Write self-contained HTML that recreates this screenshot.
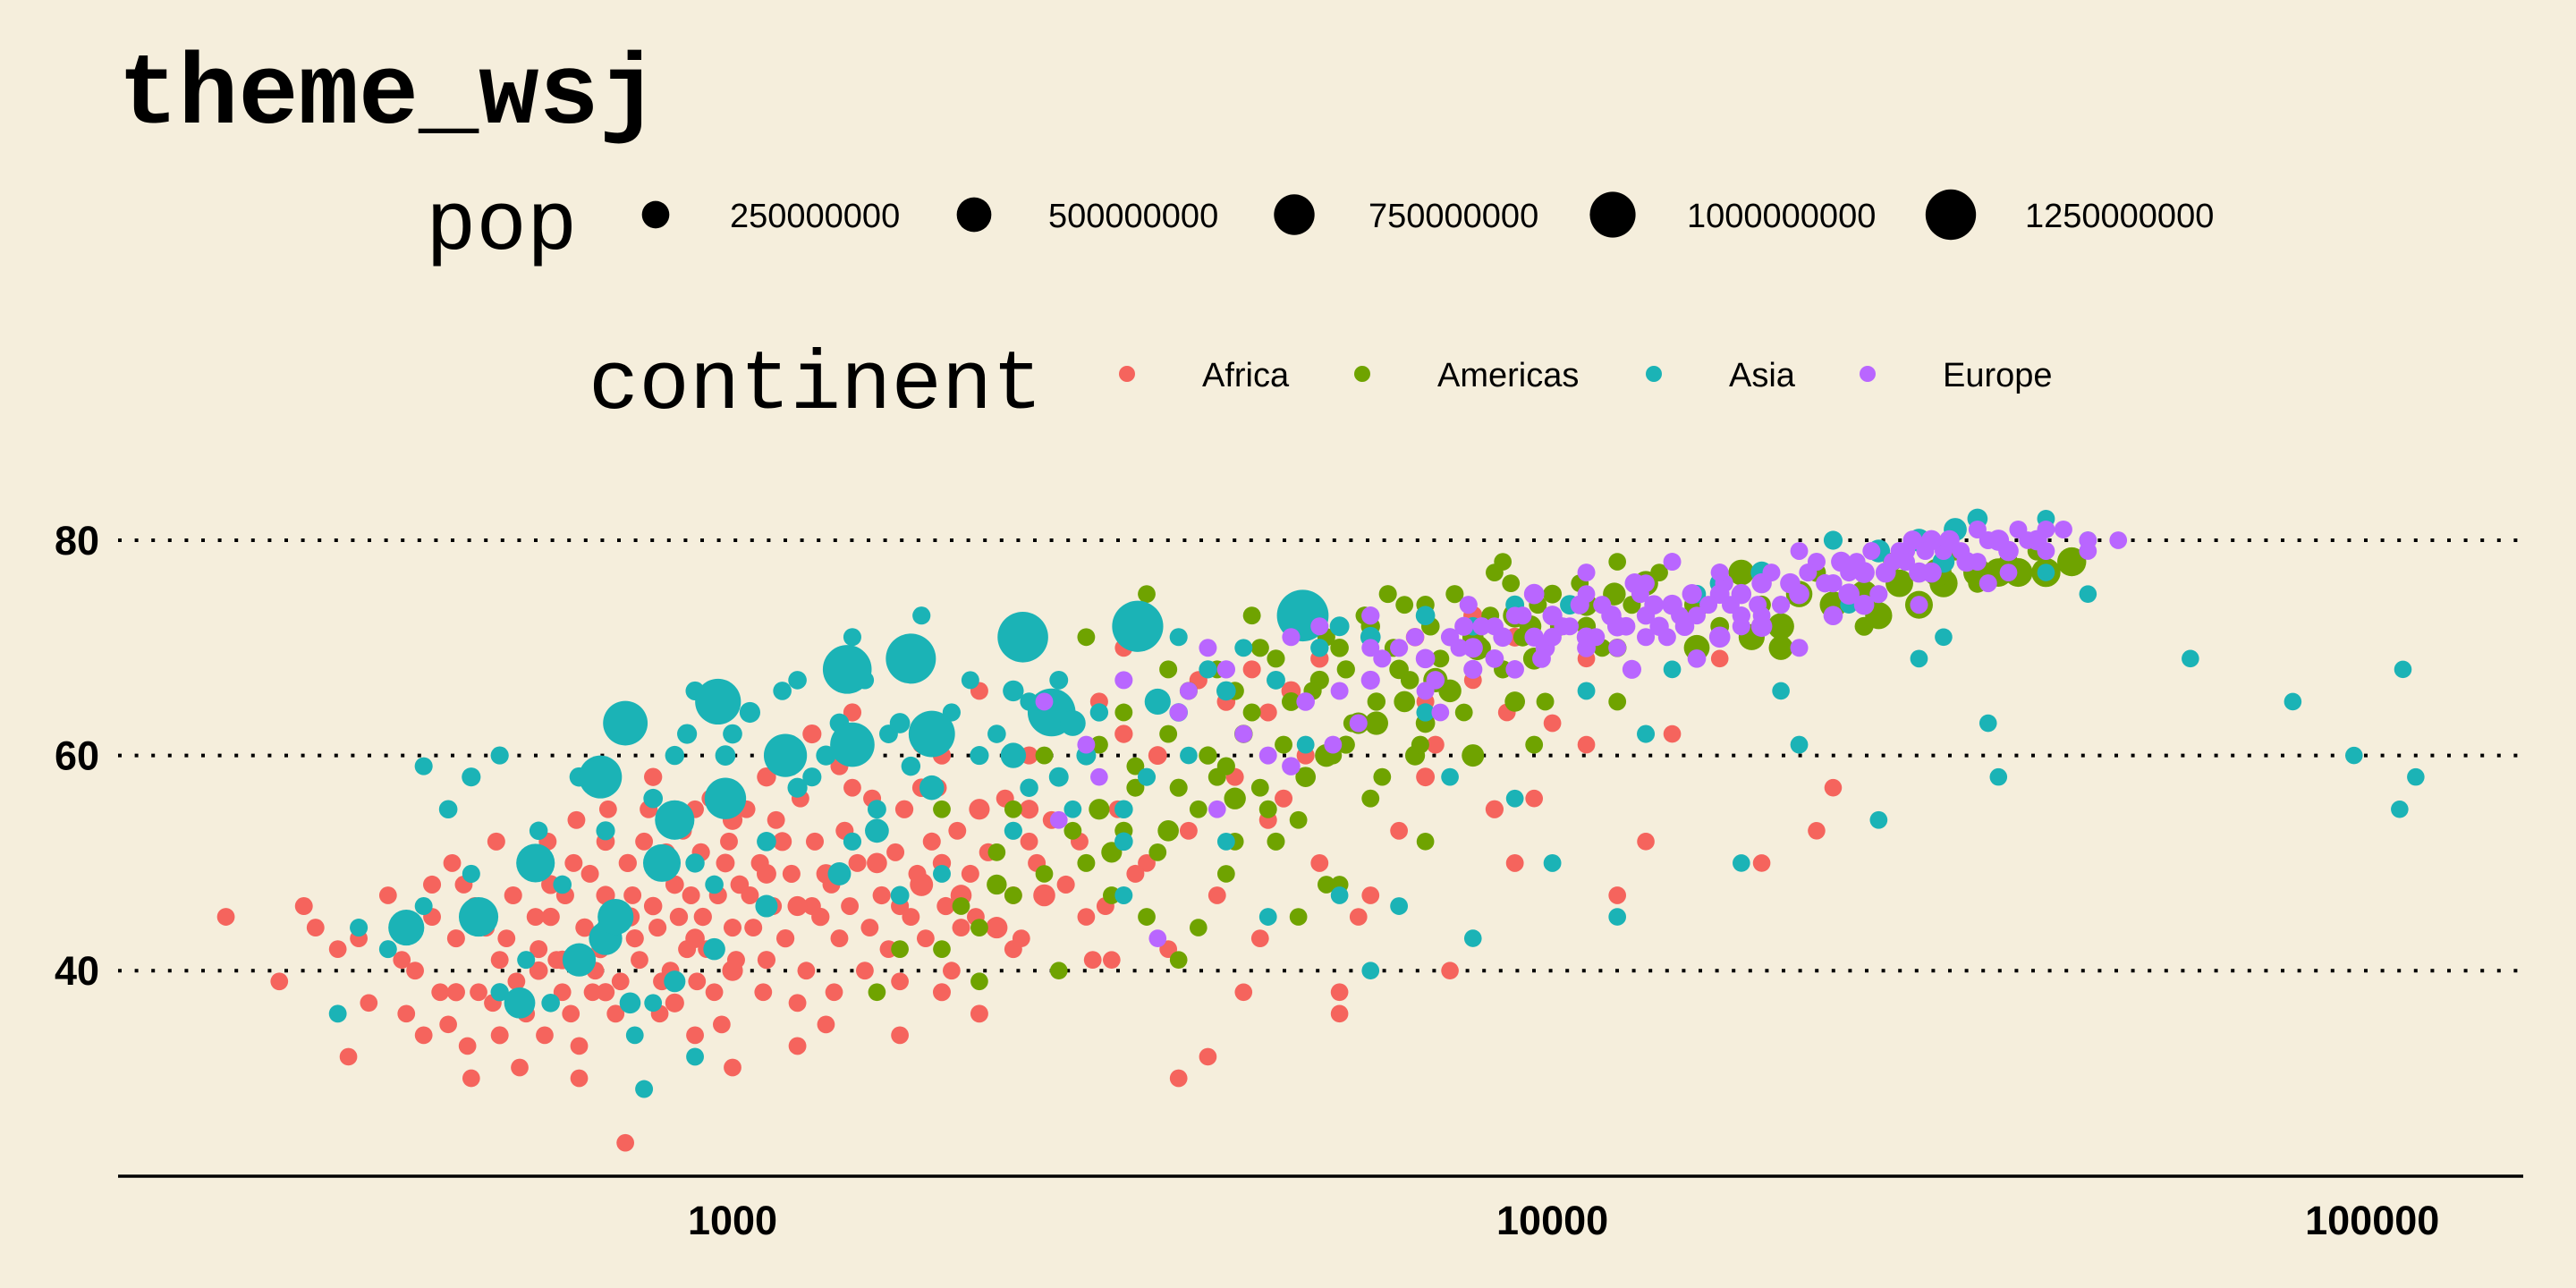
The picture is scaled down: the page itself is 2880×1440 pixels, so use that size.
<!DOCTYPE html>
<html><head><meta charset="utf-8">
<style>
html,body{margin:0;padding:0;background:#f5eedc;}
svg{display:block;}
</style></head>
<body>
<svg id="chart" width="2880" height="1440" viewBox="0 0 2880 1440" xmlns="http://www.w3.org/2000/svg">
<rect x="0" y="0" width="2880" height="1440" fill="#f5eedc"/>
<text x="132" y="137" font-family="Liberation Mono, monospace" font-weight="bold" font-size="112">theme_wsj</text>
<g id="legendPop"></g>
<g id="legendCont"></g>
<g id="grid"></g>
<g id="points"></g>
<g id="axes"></g>
</svg>
<script>
const continents = ["Africa","Americas","Asia","Europe"];
const colors = ["#F5645D","#6FA300","#1BB3B6","#B966FF"];
const popBreaks = [250000000,500000000,750000000,1000000000,1250000000];
const xTicks = [1000,10000,100000];
const yTicks = [40,60,80];
// [gdpPercap, lifeExp, pop in millions]
const africa = [[241,45,5],[300,46,8],[330,42,4],[340,32,3],[350,43,5],[400,36,4],[410,40,6],[420,34,5],[450,35,3],[460,43,9],[470,48,6],[490,38,4],[500,44,12],[520,41,7],[540,47,10],[560,36,4],[580,42,8],[600,45,15],[620,38,5],[640,50,9],[660,44,20],[680,40,6],[700,47,30],[720,36,5],[740,24,4],[760,43,12],[780,52,6],[800,46,18],[820,39,7],[850,48,22],[880,42,9],[900,55,6],[920,45,14],[950,38,5],[980,50,25],[1000,44,10],[1050,47,8],[1100,41,12],[1150,52,30],[1200,37,6],[1250,46,9],[1300,49,40],[1350,43,7],[1400,57,5],[1450,40,6],[1500,53,20],[1600,46,11],[1700,61,4],[1800,50,15],[1900,44,8],[2000,55,70],[2100,48,9],[2300,52,6],[2500,58,5],[2700,45,4],[2900,41,3],[3200,50,5],[3500,30,4],[3800,32,3],[4000,65,20],[4200,38,2],[4500,54,8],[5000,60,10],[5500,36,2],[6000,47,5],[7000,58,25],[7500,40,2],[8500,55,12],[9000,50,6],[10000,63,4],[12000,47,3],[14000,62,3],[18000,50,2],[21000,53,1],[22000,57,1],[3000,70,6],[4300,68,9],[6000,72,12],[9000,71,30],[12000,72,5],[2600,63,10],[1800,60,14],[1100,58,35],[900,34,6],[650,33,5],[550,31,4],[600,48,30],[700,52,20],[1300,35,4],[2200,42,8],[1000,54,50],[800,58,15],[1600,39,5],[2400,47,100],[3300,60,25],[4800,66,40],[7000,65,8],[11000,69,3],[14000,74,2],[8000,73,35],[5500,38,3],[1400,64,12],[2000,66,8],[1250,62,30],[1700,48,130],[2100,44,90],[1000,40,70],
[280,39,4],[310,44,6],[360,37,3],[380,47,5],[395,41,4],[430,45,7],[440,38,5],[455,50,6],[475,33,3],[485,46,8],[510,37,4],[515,52,9],[530,43,6],[545,39,5],[565,50,11],[575,45,7],[590,34,4],[595,52,8],[610,41,6],[625,47,10],[635,36,4],[645,54,7],[670,49,9],[675,38,5],[690,42,12],[705,55,6],[715,45,8],[730,39,5],[745,50,14],[755,47,7],[770,41,6],[790,55,9],[810,44,11],[815,36,4],[830,51,8],[840,40,6],[860,45,16],[870,53,7],[890,47,9],[905,39,5],[915,51,12],[930,42,6],[940,56,8],[960,47,10],[970,35,4],[990,52,7],[1010,41,9],[1020,48,20],[1040,55,6],[1060,44,8],[1080,50,11],[1090,38,5],[1120,46,9],[1130,54,7],[1160,43,13],[1180,49,10],[1210,56,6],[1230,40,5],[1260,52,9],[1280,45,15],[1320,48,8],[1330,38,4],[1370,53,11],[1390,46,7],[1420,50,10],[1470,44,6],[1480,56,9],[1520,47,12],[1550,42,5],[1580,51,8],[1620,55,14],[1650,45,7],[1680,49,9],[1720,43,6],[1750,52,10],[1780,57,8],[1820,46,12],[1850,40,5],[1880,53,7],[1950,49,9],[1980,45,6],[2050,51,11],[2150,56,8],[2200,47,7],[2250,43,5],[2350,50,9],[2450,54,6],[2550,48,10],[2650,52,7],[2750,41,5],[2850,46,8],[2950,55,6],[3100,49,9],[3400,42,5],[3600,53,7],[3900,47,6],[4100,58,8],[4400,43,5],[4700,56,9],[5200,50,6],[5800,45,4],[6500,53,5],[7200,61,7],[8800,64,4],[9500,56,3],[11000,61,3],[13000,52,2],[16000,69,2],[3000,62,15],[2300,60,12],[1700,57,20],[1350,59,9],[2800,65,10],[3700,67,12],[5200,69,15],[6800,71,20],[4500,64,8],[8000,67,6],[1200,46,50],[1500,50,60],[1900,47,80],[2300,55,30],[900,43,40],[750,45,35],[1100,49,45],[620,41,25],[850,37,30],[700,38,15],[580,40,22],[460,38,12],[430,48,10],[520,34,8],[480,30,3],[650,30,4],[1000,31,5],[1200,33,6],[1600,34,5],[2000,36,7],[1800,38,9]];
const americas = [[1500,38,3],[1800,42,4],[2000,44,5],[2200,47,6],[2500,40,3],[2700,50,8],[3000,53,12],[3200,45,5],[3500,57,10],[3800,60,15],[4000,49,4],[4200,62,20],[4500,55,8],[4800,65,25],[5000,58,60],[5200,67,30],[5500,70,20],[5800,63,90],[6000,72,35],[6500,68,40],[7000,74,15],[7500,66,120],[8000,71,80],[8500,77,5],[9000,73,150],[9500,69,100],[10000,75,25],[11000,72,30],[12000,78,3],[13000,76,170],[15000,74,180],[17000,77,200],[20000,75,220],[25000,73,240],[28000,74,260],[30000,76,270],[35000,77,280],[40000,77,300],[43000,78,300],[3900,58,8],[2800,55,70],[2400,60,6],[6800,60,50],[4600,52,9],[5300,48,4],[12000,70,20],[9000,65,60],[16000,72,25],[19000,70,160],[24000,72,28],[33000,76,30],[2300,65,7],[3400,68,9],[4400,70,12],[1800,55,5],[8000,60,110],[7000,63,40],[6300,75,10],[10500,74,15],[3700,44,3],[3100,59,6],[5600,61,12],[4100,66,15],[2600,63,4],
[1600,42,4],[1900,46,5],[2100,51,3],[2200,55,6],[2400,49,4],[2500,58,7],[2600,53,5],[2800,61,8],[2900,47,3],[3000,64,6],[3100,57,9],[3300,51,4],[3400,62,7],[3600,66,10],[3700,55,5],[3900,68,8],[4000,59,12],[4100,52,4],[4300,64,9],[4400,57,6],[4600,69,11],[4700,61,7],[4900,54,5],[5100,66,13],[5300,71,9],[5400,60,6],[5600,68,14],[5700,63,8],[5900,73,10],[6100,65,16],[6200,58,5],[6400,70,12],[6600,74,6],[6700,67,18],[6900,61,9],[7100,72,20],[7300,69,7],[7600,75,11],[7800,64,5],[8200,70,22],[8400,73,8],[8700,68,12],[8900,76,6],[9200,71,25],[9600,74,9],[9800,65,7],[10200,72,30],[10800,76,5],[11500,70,8],[12500,74,10],[13500,77,4],[14500,72,12],[16000,76,6],[18000,74,20],[21000,77,25],[23000,75,27],[26000,78,29],[31000,79,31],[36000,78,33],[39000,79,33],[4900,45,4],[5500,48,5],[3500,41,3],[7000,52,3],[2000,39,3],[6000,56,6],[9500,61,5],[12000,65,5],[4300,73,7],[2700,71,6],[3200,75,5],[8700,78,4],[6100,63,140],[7200,67,160],[8100,70,170],[5300,60,120],[4100,56,95],[3400,53,80],[2900,51,70],[2100,48,55],[6600,65,80],[9400,72,100],[11000,74,105],[11900,75,120],[15000,70,200],[17500,71,210],[19000,72,220],[22000,74,230],[24000,75,245],[26500,76,255],[29500,77,265],[33000,77,280],[37000,77,290]];
const asia = [[330,36,6],[380,42,8],[420,59,10],[450,55,20],[480,58,30],[500,45,15],[520,60,12],[560,41,9],[600,37,20],[650,58,40],[700,44,12],[750,64,25],[780,29,8],[800,37,5],[850,60,35],[900,66,30],[950,48,20],[1000,56,15],[1100,52,40],[1200,67,20],[1400,71,10],[1500,55,25],[1700,73,12],[1800,49,8],[2000,60,30],[2300,65,15],[2500,58,45],[3000,55,20],[3500,71,10],[4000,66,40],[5000,61,6],[6000,40,3],[7000,64,15],[8000,43,2],[9000,56,4],[10000,50,6],[12000,45,3],[13000,62,10],[17000,50,2],[20000,61,5],[25000,54,4],[28000,69,4],[30000,78,100],[33000,82,60],[34000,63,2],[35000,58,1],[40000,82,7],[45000,80,4],[60000,69,1],[80000,65,1],[95000,60,1],[108000,55,1],[109000,68,1],[113000,58,1],[12000,72,40],[15000,75,20],[22000,80,30],[3000,47,8],[4500,45,5],[6500,46,6],[2200,53,12],[1600,47,25],[1300,60,50],[900,32,6],[760,34,5],[480,49,10],[580,53,18],
[350,44,10],[420,46,8],[520,38,15],[620,48,20],[700,53,30],[800,56,40],[880,62,50],[980,60,60],[1050,64,70],[1150,66,20],[1250,58,30],[1350,63,40],[1450,67,15],[1550,62,25],[1650,59,35],[1850,64,12],[1950,67,8],[2100,62,20],[2300,57,18],[2500,67,25],[2800,64,15],[2700,60,45],[3200,58,10],[3500,64,20],[3800,68,12],[4200,70,8],[4600,67,25],[5200,70,15],[5500,72,45],[6000,71,60],[7000,73,40],[8000,72,20],[9000,74,25],[10500,74,45],[16000,76,50],[18000,77,100],[25000,79,120],[28000,80,125],[31000,81,127],[3000,52,20],[1400,52,12],[1200,57,50],[1600,63,60],[2200,66,75],[900,50,35],[1000,62,40],[11000,66,6],[14000,68,3],[7500,58,4],[5500,47,3],[4000,52,5],[3600,60,3],[2600,55,4],[19000,66,2],[23000,74,3],[40000,77,3],[45000,75,2],[30000,71,2],
[400,44,550],[575,50,660],[490,45,700],[690,58,860],[740,63,940],[960,65,1000],[1380,68,1160],[1650,69,1230],[2260,71,1260],[3120,72,1290],[4960,73,1320],[550,37,370],[650,41,450],[700,43,450],[720,45,550],[820,50,620],[850,54,700],[980,56,790],[1160,60,870],[1400,61,930],[1750,62,1030],[2450,64,1110],[750,37,80],[850,39,90],[950,42,100],[1100,46,110],[1350,49,130],[1500,53,150],[1750,57,170],[2200,60,190],[2600,63,200],[3300,65,210]];
const europe = [[2500,54,5],[2700,61,8],[3000,67,10],[3500,64,12],[4000,68,15],[4500,60,8],[5000,65,20],[5200,72,10],[6000,67,30],[6500,70,12],[7000,69,40],[7500,71,15],[8000,70,50],[8500,72,10],[9000,68,20],[9500,71,35],[10000,73,50],[11000,70,25],[12000,72,55],[13000,71,10],[14000,74,60],[15000,73,8],[16000,75,45],[17000,72,12],[18000,76,57],[19000,74,10],[20000,75,60],[22000,76,15],[24000,77,80],[26000,78,10],[28000,77,60],[30000,79,8],[32000,78,55],[34000,80,9],[36000,79,60],[38000,80,5],[40000,81,7],[45000,80,5],[49000,80,4],[2400,65,6],[4800,59,20],[3300,43,3],[3800,70,9],[6000,73,15],[7800,72,30],[9800,70,40],[11500,74,10],[13500,72,35],[16500,74,8],[21000,78,10],[25000,75,12],[29000,80,60],[33000,81,10],[20000,70,9],[15000,69,20],[12500,68,30],[11000,71,38],[8500,69,22],[10500,72,9],[13000,73,16],[18000,73,5],[23000,77,8],[27000,79,15],
[5500,66,8],[6200,69,10],[6800,71,12],[7200,67,20],[7700,70,9],[8200,72,14],[8700,71,40],[9200,73,10],[9700,69,25],[10300,72,8],[10800,74,30],[11300,71,10],[11800,73,57],[12300,72,22],[12800,75,8],[13300,74,40],[13800,71,10],[14300,73,5],[14800,75,50],[15500,74,9],[16200,76,15],[17000,75,55],[17800,74,10],[18500,77,8],[19500,76,58],[20500,77,10],[21500,76,16],[22500,78,60],[23500,78,5],[24500,79,9],[25500,77,60],[26500,79,8],[27500,80,40],[28500,79,10],[30500,80,58],[31500,79,5],[35000,80,82],[37000,81,9],[39000,80,60],[42000,81,10],[36000,77,4],[33000,78,8],[29000,77,60],[27000,78,11],[23000,75,80],[19000,74,9],[17000,73,15],[14500,72,38],[12000,70,10],[10000,71,20],[8000,68,30],[7000,66,9],[6000,70,8],[9000,73,5],[11000,75,4],[13000,76,6],[16000,77,10],[5800,63,10],[4200,62,9],[3600,66,8],[2800,58,3],[3900,55,4],[5400,61,7],[7300,64,5],[4800,71,10],[7900,74,12],[9500,75,60],[12600,76,50],[11000,77,8],[14000,78,9],[20000,79,6],[18000,72,80],[16000,71,80],[22000,73,40],[24000,74,60],[28000,74,10],[34000,76,8],[40000,79,6],[45000,79,5]];
const series = [africa, americas, asia, europe];

const NS = "http://www.w3.org/2000/svg";
const X0 = 132, X1 = 2821, YAX = 1315;
function xScale(v){ return 819 + (Math.log10(v) - 3) * 916.6; }
function yScale(v){ return 604 + (80 - v) * 12.03; }
function rScale(popM){ return Math.sqrt(95 + 140 * popM / 250); }
function mk(tag, attrs, parent){ const e = document.createElementNS(NS, tag); for (const k in attrs) e.setAttribute(k, attrs[k]); parent.appendChild(e); return e; }

const grid = document.getElementById('grid');
yTicks.forEach(t => {
  const l = mk('line', {x1:X0, x2:X1, y1:yScale(t), y2:yScale(t), stroke:'#000', 'stroke-width':4, 'stroke-dasharray':'4,14.6'}, grid);
  
  
  const tx = mk('text', {x:111, y:yScale(t)+16, 'text-anchor':'end', 'font-family':'Liberation Sans, sans-serif', 'font-weight':'bold', 'font-size':45}, grid);
  tx.textContent = t;
  
  
});

const pg = document.getElementById('points');
series.forEach((s, ci) => {
  s.forEach(d => {
    const c = mk('circle', {cx:xScale(d[0]), cy:yScale(d[1]), r:rScale(d[2]), fill:colors[ci]}, pg);
    
    
  });
});

const ax = document.getElementById('axes');
const al = mk('line', {x1:X0, x2:X1, y1:YAX, y2:YAX, stroke:'#000', 'stroke-width':3.5}, ax);


xTicks.forEach(t => {
  const tx = mk('text', {x:xScale(t), y:1380, 'text-anchor':'middle', 'font-family':'Liberation Sans, sans-serif', 'font-weight':'bold', 'font-size':45}, ax);
  tx.textContent = t;
  
  
});

const lp = document.getElementById('legendPop');
const pt = mk('text', {x:476, y:278, 'font-family':'Liberation Mono, monospace', 'font-size':94}, lp);
pt.textContent = 'pop';


const popX = [733, 1089, 1447, 1803, 2181];
popBreaks.forEach((b, i) => {
  const c = mk('circle', {cx:popX[i], cy:240, r:rScale(b/1e6), fill:'#000'}, lp);
  
  
  const t = mk('text', {x:popX[i]+83, y:254, 'font-family':'Liberation Sans, sans-serif', 'font-size':38}, lp);
  t.textContent = b;
  
  
});

const lc = document.getElementById('legendCont');
const ct = mk('text', {x:658, y:456, 'font-family':'Liberation Mono, monospace', 'font-size':94}, lc);
ct.textContent = 'continent';


const contX = [1260, 1523, 1849, 2088];
continents.forEach((n, i) => {
  const c = mk('circle', {cx:contX[i], cy:418, r:9, fill:colors[i]}, lc);
  
  
  const t = mk('text', {x:contX[i]+84, y:432, 'font-family':'Liberation Sans, sans-serif', 'font-size':38}, lc);
  t.textContent = n;
  
  
});
</script>
</body></html>
